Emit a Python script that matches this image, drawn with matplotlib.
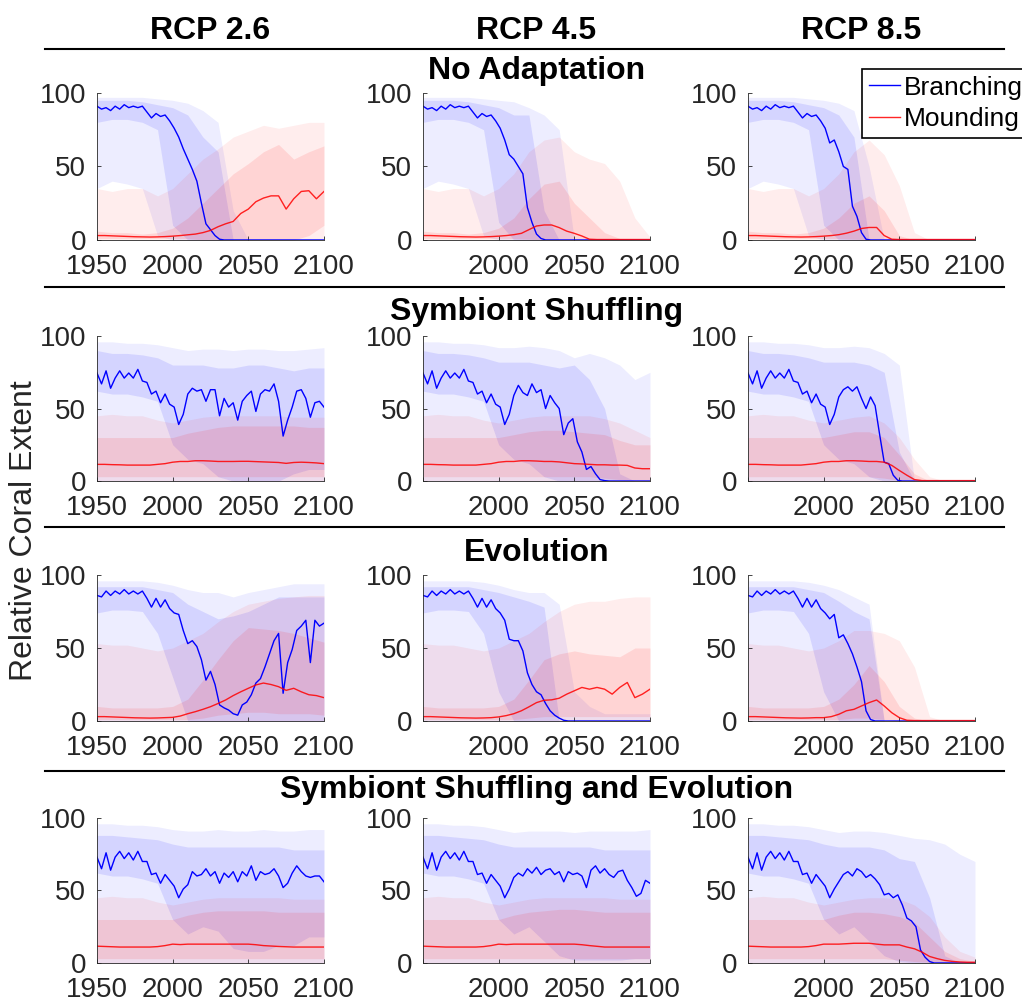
import numpy as np
import matplotlib
matplotlib.use('Agg')
import matplotlib.pyplot as plt
from matplotlib.lines import Line2D

plt.rcParams['font.family'] = ['Liberation Sans', 'DejaVu Sans']

# x grids: branching line read every 3 yrs, mounding line every 5, bands every 10
years_blue = np.arange(1950, 2101, 3)
years_red = np.arange(1950, 2101, 5)
years_band = np.arange(1950, 2101, 10)

scenarios = ['RCP 2.6', 'RCP 4.5', 'RCP 8.5']
adaptations = ['No Adaptation', 'Symbiont Shuffling', 'Evolution',
               'Symbiont Shuffling and Evolution']

zero_band = [0, 0, 0, 0, 0, 0, 0, 0, 0, 0, 0, 0, 0, 0, 0, 0]

# ---------------- No Adaptation ----------------
hist_noad_blue = [91, 89, 90, 88, 91, 89, 92, 90, 91, 90, 91, 87, 83, 86, 84, 85, 81, 76]
noad26_blue = hist_noad_blue + [70, 62, 55, 48, 40, 25, 11, 7, 3, 0.5,
                                0, 0, 0, 0, 0, 0, 0, 0, 0, 0, 0, 0, 0, 0, 0, 0, 0, 0, 0, 0, 0, 0, 0]
noad45_blue = hist_noad_blue + [68, 58, 55, 50, 45, 22, 12, 4, 1, 0,
                                0, 0, 0, 0, 0, 0, 0, 0, 0, 0, 0, 0, 0, 0, 0, 0, 0, 0, 0, 0, 0, 0, 0]
noad85_blue = hist_noad_blue + [66, 68, 60, 50, 48, 23, 16, 5, 0.5, 0,
                                0, 0, 0, 0, 0, 0, 0, 0, 0, 0, 0, 0, 0, 0, 0, 0, 0, 0, 0, 0, 0, 0, 0]
noad26_red = [3, 3, 2.8, 2.6, 2.4, 2.2, 2.1, 2.0, 2.1, 2.3, 2.6, 3.0, 3.5, 4, 5, 6.5,
              9, 11, 12.6, 18, 21, 26, 28.5, 30, 30, 21, 28, 33, 33.5, 28, 33]
noad45_red = [3, 3, 2.8, 2.6, 2.4, 2.2, 2.1, 2.0, 2.1, 2.3, 2.6, 3.0, 3.6, 4.5, 7, 9.5,
              10.2, 10.2, 8.4, 6, 4.5, 2.7, 0.5, 0.3, 0.3, 0.3, 0.3, 0.3, 0.3, 0.3, 0.3]
noad85_red = [3, 3, 2.8, 2.6, 2.4, 2.2, 2.1, 2.0, 2.1, 2.3, 2.6, 3.0, 3.6, 4.6, 6, 7.8,
              8.5, 8.5, 3, 0.5, 0.3, 0.3, 0.3, 0.3, 0.3, 0.3, 0.3, 0.3, 0.3, 0.3, 0.3]

noad_bo_lo = [35, 40, 38, 35, 3, 0, 0, 0, 0, 0, 0, 0, 0, 0, 0, 0]
noad26_bo_hi = [97, 97, 97, 97, 96, 95, 93, 88, 80, 20, 0, 0, 0, 0, 0, 0]
noad26_bi_lo = [80, 82, 82, 80, 75, 10, 0, 0, 0, 0, 0, 0, 0, 0, 0, 0]
noad26_bi_hi = [95, 95, 95, 94, 92, 90, 85, 70, 60, 0, 0, 0, 0, 0, 0, 0]
noad26_ro_hi = [35, 33, 35, 35, 30, 35, 45, 55, 62, 70, 74, 78, 76, 78, 80, 80]
noad26_ri_lo = [1, 1, 1, 1, 1, 1, 1, 0, 0, 0, 0, 0, 0, 0, 3, 10]
noad26_ri_hi = [6, 5, 5, 4, 5, 8, 15, 25, 35, 45, 52, 60, 65, 55, 60, 64]

noad45_bo_hi = [97, 97, 97, 97, 96, 95, 94, 90, 85, 75, 0, 0, 0, 0, 0, 0]
noad45_bi_lo = [80, 82, 82, 80, 75, 12, 0, 0, 0, 0, 0, 0, 0, 0, 0, 0]
noad45_bi_hi = [95, 95, 95, 94, 92, 90, 85, 85, 20, 0, 0, 0, 0, 0, 0, 0]
noad45_ro_hi = [35, 33, 35, 35, 30, 35, 45, 60, 68, 70, 60, 55, 52, 40, 15, 2]
noad45_ri_lo = [1, 1, 1, 1, 1, 1, 1, 0.5, 0, 0, 0, 0, 0, 0, 0, 0]
noad45_ri_hi = [6, 5, 5, 4, 5, 8, 15, 28, 38, 40, 25, 15, 5, 1, 0, 0]

noad85_bo_hi = [97, 97, 97, 97, 96, 95, 93, 88, 50, 0, 0, 0, 0, 0, 0, 0]
noad85_bi_lo = [80, 82, 82, 80, 75, 10, 0, 0, 0, 0, 0, 0, 0, 0, 0, 0]
noad85_bi_hi = [95, 95, 95, 94, 92, 90, 85, 70, 0, 0, 0, 0, 0, 0, 0, 0]
noad85_ro_hi = [35, 33, 35, 35, 30, 35, 45, 60, 68, 58, 37, 5, 0, 0, 0, 0]
noad85_ri_lo = [1, 1, 1, 1, 1, 1, 1, 0.5, 0, 0, 0, 0, 0, 0, 0, 0]
noad85_ri_hi = [6, 5, 5, 4, 5, 8, 15, 25, 30, 20, 3, 0, 0, 0, 0, 0]

# ---------------- Symbiont Shuffling ----------------
hist_sym_blue = [74.5, 67, 76, 64, 71, 76, 71, 74.5, 71, 77, 69, 68, 60, 62, 54, 60, 53, 51, 39, 46]
sym26_blue = hist_sym_blue + [60, 64, 62, 63, 55, 63, 63, 45, 57, 51, 54, 42, 55, 59, 62, 48,
                              60, 63, 62, 67, 55, 31, 42, 51, 62, 63, 57, 44, 54, 55, 51]
sym45_blue = hist_sym_blue + [59, 66, 61, 59, 67, 61, 63, 50, 59, 54, 50, 32, 40, 43, 27, 20,
                              8, 10, 5, 1, 0.3, 0, 0, 0, 0, 0, 0, 0, 0, 0, 0]
sym85_blue = hist_sym_blue + [58, 63, 65, 62, 65, 57, 50, 58, 52, 32, 13, 12, 4, 0.5, 0, 0,
                              0, 0, 0, 0, 0, 0, 0, 0, 0, 0, 0, 0, 0, 0, 0]
sym26_red = [11.5, 11.5, 11.3, 11.2, 11, 11, 11, 11, 11.5, 12, 13, 13.5, 13.5, 14, 14, 13.8,
             13.5, 13.5, 13.5, 13.6, 13.6, 13.4, 13.2, 13, 12.8, 12.2, 12.8, 13, 12.8, 12.5, 12]
sym45_red = [11.5, 11.5, 11.3, 11.2, 11, 11, 11, 11, 11.5, 12, 13, 13.5, 13.5, 14, 14, 13.8,
             13.5, 13.5, 13.2, 12.6, 12, 11.8, 11.5, 11.2, 11.2, 11, 11, 10.8, 9, 8.5, 8.5]
sym85_red = [11.5, 11.5, 11.3, 11.2, 11, 11, 11, 11, 11.5, 12, 13, 13.5, 13.5, 14, 14, 13.8,
             13.5, 13.5, 13, 10.8, 7.3, 4, 1, 0.3, 0.3, 0.3, 0.3, 0.3, 0.3, 0.3, 0.3]

sym26_bo_hi = [96, 96, 95, 95, 94, 92, 90, 91, 91, 90, 91, 91, 90, 90, 91, 92]
sym26_bi_lo = [62, 60, 60, 58, 55, 25, 15, 12, 3, 0, 0, 0, 0, 5, 8, 8]
sym26_bi_hi = [90, 88, 88, 87, 85, 80, 80, 80, 78, 78, 80, 80, 78, 76, 78, 78]
sym26_ro_hi = [45, 46, 45, 45, 42, 40, 42, 44, 45, 45, 45, 45, 45, 44, 44, 44]
sym26_ri_lo = [3, 3, 3, 3, 3, 3, 3, 3, 3, 3, 3, 3, 3, 3, 3, 3]
sym26_ri_hi = [30, 30, 30, 30, 30, 30, 33, 35, 37, 38, 38, 38, 38, 38, 37, 37]

sym45_bo_hi = [96, 96, 95, 95, 94, 92, 92, 93, 92, 90, 85, 88, 85, 80, 70, 75]
sym45_bi_lo = [62, 60, 60, 58, 55, 25, 15, 12, 3, 0, 0, 0, 0, 0, 0, 0]
sym45_bi_hi = [90, 88, 88, 87, 85, 82, 82, 82, 80, 78, 80, 70, 50, 5, 0, 0]
sym45_ro_hi = [45, 46, 45, 45, 42, 40, 42, 44, 45, 45, 45, 45, 43, 40, 35, 30]
sym45_ri_lo = [3, 3, 3, 3, 3, 3, 3, 3, 3, 3, 3, 3, 2, 1, 0.5, 0.5]
sym45_ri_hi = [30, 30, 30, 30, 30, 30, 32, 34, 35, 35, 34, 33, 32, 28, 25, 25]

sym85_bo_hi = [96, 96, 95, 95, 94, 92, 92, 93, 92, 88, 80, 0, 0, 0, 0, 0]
sym85_bi_lo = [62, 60, 60, 58, 55, 25, 15, 12, 3, 0, 0, 0, 0, 0, 0, 0]
sym85_bi_hi = [90, 88, 88, 87, 85, 82, 82, 82, 80, 75, 20, 0, 0, 0, 0, 0]
sym85_ro_hi = [45, 46, 45, 45, 42, 40, 42, 44, 45, 40, 30, 15, 3, 0, 0, 0]
sym85_ri_lo = [3, 3, 3, 3, 3, 3, 3, 3, 3, 2, 0.5, 0, 0, 0, 0, 0]
sym85_ri_hi = [30, 30, 30, 30, 30, 30, 32, 34, 34, 30, 18, 5, 0, 0, 0, 0]

# ---------------- Evolution ----------------
hist_evo_blue = [86, 85, 89, 86, 89, 87, 90, 87, 89, 87, 89, 84, 78, 84, 78, 83, 77, 74]
evo26_blue = hist_evo_blue + [73, 62, 53, 55, 51, 42, 28, 34, 25, 11, 9, 7.5, 5, 4, 11, 13, 18,
                              26, 29, 37, 46, 55, 60, 19, 40, 49, 62, 65, 69, 40, 69, 65, 67]
evo45_blue = hist_evo_blue + [69, 56, 55, 55, 48, 33, 25, 20, 18, 12, 7, 4, 2, 0.5, 0, 0, 0,
                              0, 0, 0, 0, 0, 0, 0, 0, 0, 0, 0, 0, 0, 0, 0, 0]
evo85_blue = hist_evo_blue + [70, 73, 57, 59, 53, 46, 37, 27, 7, 1, 0, 0, 0, 0, 0, 0, 0,
                              0, 0, 0, 0, 0, 0, 0, 0, 0, 0, 0, 0, 0, 0, 0, 0]
evo26_red = [3, 3, 2.8, 2.6, 2.4, 2.2, 2.1, 2.0, 2.1, 2.3, 2.5, 3.4, 5, 6.4, 8, 9.8,
             12, 14.4, 17.4, 20, 22.4, 24.7, 26, 25, 23.5, 21, 22.4, 20, 18, 17.4, 16]
evo45_red = [3, 3, 2.8, 2.6, 2.4, 2.2, 2.1, 2.0, 2.1, 2.3, 2.8, 3.7, 5, 7, 9.7, 12.6,
             14.2, 14.5, 15.6, 18.4, 20.7, 23, 21.8, 23, 21.8, 18.4, 23, 26.4, 16, 18.4, 21.8]
evo85_red = [3, 3, 2.8, 2.6, 2.4, 2.2, 2.1, 2.0, 2.1, 2.3, 2.3, 3, 4.6, 7, 8, 10.3,
             12.6, 14.4, 10.3, 5.7, 2.3, 0.5, 0.3, 0.3, 0.3, 0.3, 0.3, 0.3, 0.3, 0.3, 0.3]

evo26_bo_hi = [96, 96, 96, 96, 95, 93, 90, 88, 88, 85, 88, 90, 92, 94, 94, 94]
evo26_bi_lo = [74, 76, 76, 75, 60, 30, 0, 0, 0, 0, 0, 0, 0, 0, 0, 0]
evo26_bi_hi = [92, 92, 92, 92, 90, 88, 80, 75, 70, 72, 75, 80, 85, 85, 85, 85]
evo26_ro_hi = [53, 52, 52, 50, 48, 50, 55, 60, 68, 75, 80, 82, 84, 85, 86, 86]
evo26_ri_lo = [1, 1, 1, 1, 1, 1, 1, 2, 4, 5, 6, 6, 5, 5, 5, 4]
evo26_ri_hi = [10, 9, 9, 9, 9, 10, 15, 28, 42, 55, 64, 63, 62, 60, 57, 54]

evo45_bo_hi = [96, 96, 96, 96, 95, 93, 90, 88, 88, 80, 20, 10, 5, 5, 5, 5]
evo45_bi_lo = [74, 76, 76, 75, 60, 20, 0, 0, 0, 0, 0, 0, 0, 0, 0, 0]
evo45_bi_hi = [92, 92, 92, 92, 90, 88, 85, 82, 78, 0, 0, 0, 0, 0, 0, 0]
evo45_ro_hi = [53, 52, 52, 50, 48, 50, 55, 60, 68, 75, 80, 82, 82, 84, 85, 85]
evo45_ri_lo = [1, 1, 1, 1, 1, 1, 1, 2, 3, 3, 3, 3, 3, 3, 3, 3]
evo45_ri_hi = [10, 9, 9, 9, 9, 10, 15, 28, 42, 46, 48, 46, 45, 44, 50, 50]

evo85_bo_hi = [96, 96, 96, 96, 95, 93, 90, 85, 80, 0, 0, 0, 0, 0, 0, 0]
evo85_bi_lo = [74, 76, 76, 75, 60, 20, 0, 0, 0, 0, 0, 0, 0, 0, 0, 0]
evo85_bi_hi = [92, 92, 92, 92, 90, 88, 82, 75, 70, 0, 0, 0, 0, 0, 0, 0]
evo85_ro_hi = [53, 52, 52, 50, 48, 50, 55, 62, 62, 60, 55, 37, 3, 0, 0, 0]
evo85_ri_lo = [1, 1, 1, 1, 1, 1, 1, 2, 2, 1, 0, 0, 0, 0, 0, 0]
evo85_ri_hi = [10, 9, 9, 9, 9, 10, 15, 25, 38, 27, 10, 2, 0, 0, 0, 0]

# ---------------- Symbiont Shuffling and Evolution ----------------
hist_both_blue = [73, 65, 76, 64, 73, 77, 72, 76, 71, 77, 70, 70, 61, 62, 55, 61, 57, 53, 45, 51]
both26_blue = hist_both_blue + [54, 63, 60, 61, 65, 60, 63, 55, 62, 59, 63, 56, 63, 60, 67, 57,
                                63, 61, 62, 65, 60, 52, 55, 62, 67, 63, 60, 59, 60, 60, 56]
both45_blue = hist_both_blue + [59, 62, 60, 65, 62, 66, 61, 64, 65, 61, 63, 56, 63, 61, 62, 60,
                                52, 64, 67, 62, 65, 61, 59, 63, 64, 57, 52, 46, 48, 57, 55]
both85_blue = hist_both_blue + [56, 61, 63, 60, 65, 63, 59, 61, 58, 54, 47, 48, 45, 47, 40, 31,
                                29, 25, 9, 4, 1, 0, 0, 0, 0, 0, 0, 0, 0, 0, 0]
both26_red = [11.6, 11.4, 11.2, 11, 11, 11, 11, 11, 11.3, 12, 13, 12.7, 13, 13, 13, 13,
              13, 13, 13, 13, 13, 12.6, 12, 11.7, 11.4, 11.2, 11, 11, 11, 11, 11]
both45_red = [11.6, 11.4, 11.2, 11, 11, 11, 11, 11, 11.3, 12, 13, 12.7, 13, 13, 13, 13,
              13, 13, 13, 13, 13, 12.6, 12, 11.5, 11, 11, 11, 11, 11, 11, 11]
both85_red = [11.6, 11.4, 11.2, 11, 11, 11, 11, 11, 11.3, 12, 13, 13, 13, 13.3, 13.6, 13.6,
              13.6, 13, 12.5, 12.5, 12.5, 11, 9.8, 7.5, 4.5, 3, 1.8, 1.1, 0.7, 0.5, 0.5]

both26_bo_hi = [96, 96, 95, 95, 94, 92, 91, 91, 92, 91, 91, 92, 91, 91, 92, 92]
both26_bi_lo = [62, 60, 60, 58, 55, 30, 20, 25, 22, 10, 8, 8, 12, 12, 18, 18]
both26_bi_hi = [88, 88, 87, 86, 85, 82, 80, 80, 80, 80, 80, 80, 80, 78, 78, 78]
both26_ro_hi = [45, 46, 45, 45, 42, 40, 42, 44, 45, 45, 45, 45, 45, 44, 44, 44]
both26_ri_lo = [3, 3, 3, 3, 3, 3, 3, 3, 3, 3, 3, 3, 3, 3, 3, 3]
both26_ri_hi = [30, 30, 30, 30, 30, 30, 33, 35, 36, 36, 36, 36, 35, 35, 35, 35]

both45_bo_hi = [96, 96, 95, 95, 94, 92, 90, 91, 91, 91, 90, 91, 91, 91, 91, 92]
both45_bi_lo = [62, 60, 60, 58, 55, 30, 20, 25, 15, 5, 2, 2, 2, 2, 3, 3]
both45_bi_hi = [88, 88, 87, 86, 85, 82, 80, 80, 80, 80, 80, 80, 78, 78, 78, 78]
both45_ro_hi = [45, 46, 45, 45, 42, 40, 42, 44, 45, 45, 45, 45, 45, 44, 44, 44]
both45_ri_lo = [3, 3, 3, 3, 3, 3, 3, 3, 3, 3, 3, 3, 3, 3, 3, 3]
both45_ri_hi = [30, 30, 30, 30, 30, 30, 33, 35, 36, 37, 37, 36, 35, 35, 35, 35]

both85_bo_hi = [96, 96, 95, 95, 94, 92, 90, 91, 91, 90, 88, 86, 85, 82, 75, 70]
both85_bi_lo = [62, 60, 60, 58, 55, 30, 20, 25, 15, 5, 1, 0, 0, 0, 0, 0]
both85_bi_hi = [88, 88, 87, 86, 85, 82, 80, 80, 80, 78, 72, 70, 45, 5, 0, 0]
both85_ro_hi = [45, 46, 45, 45, 42, 40, 42, 44, 45, 45, 44, 40, 32, 18, 8, 4]
both85_ri_lo = [3, 3, 3, 3, 3, 3, 3, 3, 3, 3, 2, 1, 0.5, 0, 0, 0]
both85_ri_hi = [30, 30, 30, 30, 30, 30, 33, 35, 35, 34, 32, 28, 18, 8, 3, 1]

# table of panels: (blue, red, blue outer lo/hi, blue inner lo/hi, red outer hi, red inner lo/hi)
panels = [
    [(noad26_blue, noad26_red, noad_bo_lo, noad26_bo_hi, noad26_bi_lo, noad26_bi_hi, noad26_ro_hi, noad26_ri_lo, noad26_ri_hi),
     (noad45_blue, noad45_red, noad_bo_lo, noad45_bo_hi, noad45_bi_lo, noad45_bi_hi, noad45_ro_hi, noad45_ri_lo, noad45_ri_hi),
     (noad85_blue, noad85_red, noad_bo_lo, noad85_bo_hi, noad85_bi_lo, noad85_bi_hi, noad85_ro_hi, noad85_ri_lo, noad85_ri_hi)],
    [(sym26_blue, sym26_red, zero_band, sym26_bo_hi, sym26_bi_lo, sym26_bi_hi, sym26_ro_hi, sym26_ri_lo, sym26_ri_hi),
     (sym45_blue, sym45_red, zero_band, sym45_bo_hi, sym45_bi_lo, sym45_bi_hi, sym45_ro_hi, sym45_ri_lo, sym45_ri_hi),
     (sym85_blue, sym85_red, zero_band, sym85_bo_hi, sym85_bi_lo, sym85_bi_hi, sym85_ro_hi, sym85_ri_lo, sym85_ri_hi)],
    [(evo26_blue, evo26_red, zero_band, evo26_bo_hi, evo26_bi_lo, evo26_bi_hi, evo26_ro_hi, evo26_ri_lo, evo26_ri_hi),
     (evo45_blue, evo45_red, zero_band, evo45_bo_hi, evo45_bi_lo, evo45_bi_hi, evo45_ro_hi, evo45_ri_lo, evo45_ri_hi),
     (evo85_blue, evo85_red, zero_band, evo85_bo_hi, evo85_bi_lo, evo85_bi_hi, evo85_ro_hi, evo85_ri_lo, evo85_ri_hi)],
    [(both26_blue, both26_red, zero_band, both26_bo_hi, both26_bi_lo, both26_bi_hi, both26_ro_hi, both26_ri_lo, both26_ri_hi),
     (both45_blue, both45_red, zero_band, both45_bo_hi, both45_bi_lo, both45_bi_hi, both45_ro_hi, both45_ri_lo, both45_ri_hi),
     (both85_blue, both85_red, zero_band, both85_bo_hi, both85_bi_lo, both85_bi_hi, both85_ro_hi, both85_ri_lo, both85_ri_hi)],
]

AX_GREY = '#262626'


def draw_panel(ax, blue, red, bo_lo, bo_hi, bi_lo, bi_hi, ro_hi, ri_lo, ri_hi, first_col):
    # spread bands first, lines on top
    ax.fill_between(years_band, bo_lo, bo_hi, color='blue', alpha=0.07, lw=0)
    ax.fill_between(years_band, bi_lo, bi_hi, color='blue', alpha=0.10, lw=0)
    ax.fill_between(years_band, zero_band, ro_hi, color='red', alpha=0.07, lw=0)
    ax.fill_between(years_band, ri_lo, ri_hi, color='red', alpha=0.10, lw=0)
    lb, = ax.plot(years_blue, blue, color='blue', lw=1.0)
    lr, = ax.plot(years_red, red, color='red', lw=1.0, alpha=0.85)

    ax.set_xlim(1950, 2100)
    ax.set_ylim(0, 100)
    ax.set_xticks([1950, 2000, 2050, 2100])
    if first_col:
        ax.set_xticklabels(['1950', '2000', '2050', '2100'])
    else:
        ax.set_xticklabels(['', '2000', '2050', '2100'])
    ax.set_yticks([0, 50, 100])
    ax.spines['top'].set_visible(False)
    ax.spines['right'].set_visible(False)
    for s in ['left', 'bottom']:
        ax.spines[s].set_color(AX_GREY)
        ax.spines[s].set_linewidth(0.6)
    ax.tick_params(axis='both', direction='in', length=3, width=0.6,
                   colors=AX_GREY, labelsize=20)
    ax.tick_params(axis='x', pad=10)
    ax.tick_params(axis='y', pad=8)
    return lb, lr


fig = plt.figure(figsize=(10.22, 10.07), dpi=100)

lefts = [0.0949, 0.4139, 0.7319]
bottoms = [0.7617, 0.5223, 0.2840, 0.0437]
heights = [0.146, 0.144, 0.145, 0.144]
width = 0.2221

handles = None
for r in range(4):
    for c in range(3):
        ax = fig.add_axes([lefts[c], bottoms[r], width, heights[r]])
        h = draw_panel(ax, *panels[r][c], first_col=(c == 0))
        if handles is None:
            handles = h

# column headers
col_centers = [0.206, 0.525, 0.843]
for c in range(3):
    fig.text(col_centers[c], 0.9613, scenarios[c], ha='center', va='baseline',
             fontsize=23, fontweight='bold')

# row titles + separator lines
title_y = [0.9216, 0.6822, 0.4429, 0.2076]
line_y = [0.9513, 0.7150, 0.4767, 0.2344]
for r in range(4):
    fig.text(0.525, title_y[r], adaptations[r], ha='center', va='baseline',
             fontsize=23, fontweight='bold')
    fig.add_artist(Line2D([0.044, 0.982], [line_y[r], line_y[r]],
                          transform=fig.transFigure, color='black', lw=1.5))

fig.text(0.0235, 0.4727, 'Relative Coral Extent', rotation=90, ha='center',
         va='center', fontsize=23, color=AX_GREY)

leg = fig.legend(handles, ['Branching', 'Mounding'], loc='upper left',
                 bbox_to_anchor=(0.8434, 0.9315), borderaxespad=0, fontsize=19,
                 handlelength=1.2, handletextpad=0.15, borderpad=0.25,
                 labelspacing=0.3, fancybox=False, framealpha=1)
leg.get_frame().set_edgecolor('black')
leg.get_frame().set_linewidth(1.2)

fig.savefig('out.png', dpi=100)
